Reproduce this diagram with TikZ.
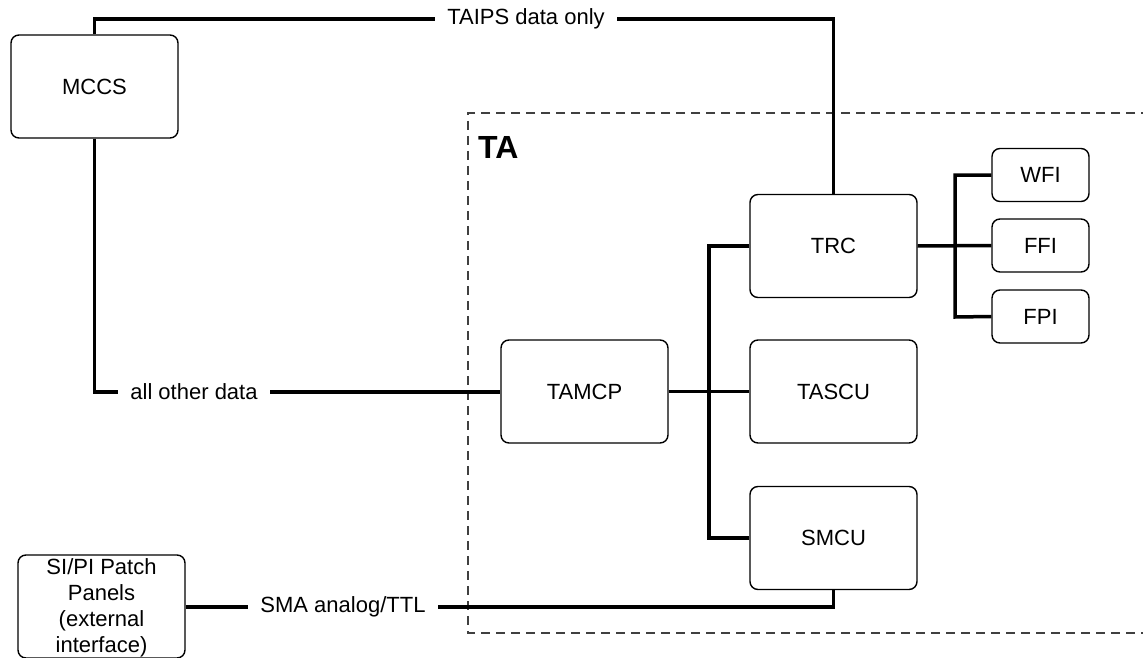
\documentclass[tikz,border=0pt]{standalone}
\usepackage{fontspec}
\setmainfont{Liberation Sans}
\begin{document}
\begin{tikzpicture}[x=1pt,y=-1pt,
  box/.style={draw, line width=1.4pt, rounded corners=8pt, minimum width=167pt, minimum height=103pt, font=\fontsize{22}{27}\selectfont, inner sep=0pt, align=center},
  sbox/.style={draw, line width=1.4pt, rounded corners=8pt, minimum width=97pt, minimum height=53pt, font=\fontsize{22}{27}\selectfont, inner sep=0pt},
  wire/.style={line width=3.5pt},
  lbl/.style={fill=white, font=\fontsize{22}{27}\selectfont, inner xsep=12pt, inner ysep=2pt}]
\useasboundingbox (0,0) rectangle (1143,658);
% TA dashed region
\draw[line width=1.4pt, dash pattern=on 9pt off 6pt, black!75] (1150,113) -- (468,113) -- (468,633) -- (1150,633);
\node[anchor=base west, inner sep=0pt, font=\bfseries\fontsize{32}{36}\selectfont] (ta) at (478,158) {TA};
% nodes
\node[box] (mccs) at (94.5,86.5) {MCCS};
\node[box] (trc) at (833.5,246) {TRC};
\node[box] (tascu) at (833.5,391.5) {TASCU};
\node[box] (smcu) at (833.5,538) {SMCU};
\node[box] (tamcp) at (584.5,391.5) {TAMCP};
\node[sbox] (wfi) at (1040.5,175) {WFI};
\node[sbox] (ffi) at (1040.5,245.5) {FFI};
\node[sbox] (fpi) at (1040.5,316.5) {FPI};
\node[box, font=\fontsize{22}{26}\selectfont, text height=97pt, text depth=6pt] (sipi) at (101.5,606.5) {SI/PI Patch\\Panels\\(external\\interface)};
% connectors
\coordinate (c1) at (94.5,19);
\coordinate (c2) at (833.5,19);
\draw[wire] (mccs.north) -- (c1) -- (c2) -- (trc.north);
\node[lbl] (l1) at (526,19) {TAIPS data only};
\coordinate (c3) at (94.5,392);
\draw[wire] (mccs.south) -- (c3) -- (tamcp.west |- c3);
\node[lbl] (l2) at (194,392) {all other data};
\coordinate (b1) at (709,246);
\coordinate (b2) at (709,538);
\draw[wire] (trc.west) -- (b1) -- (b2) -- (smcu.west);
\draw[wire] (tamcp.east) -- (tascu.west);
\coordinate (r1) at (955,175);
\coordinate (r2) at (955,317);
\draw[wire] (trc.east) -- (ffi.west);
\draw[wire] (wfi.west) -- (r1) -- (r2) -- (fpi.west);
\coordinate (s1) at (833.5,607);
\draw[wire] (sipi.east |- s1) -- (s1) -- (smcu.south);
\node[lbl] (l3) at (343,607) {SMA analog/TTL};
\end{tikzpicture}
\end{document}
